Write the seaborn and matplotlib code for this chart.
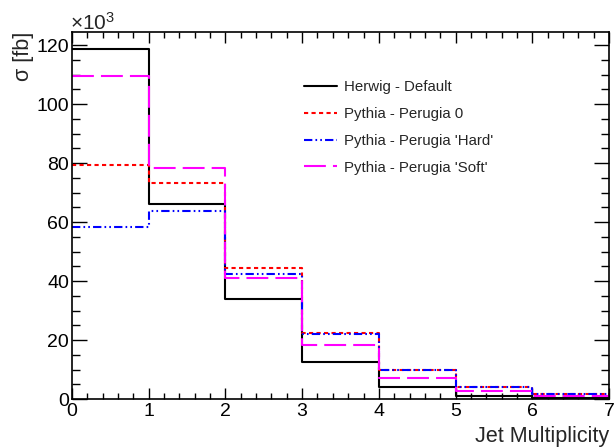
import numpy as np
import pandas as pd
import matplotlib
matplotlib.use("Agg")
import matplotlib.pyplot as plt
from matplotlib.ticker import MultipleLocator
import seaborn as sns

# ---- data (x10^3 fb) ----
bin_edges = [0, 1, 2, 3, 4, 5, 6, 7]
herwig_default = [118.6, 66.3, 34.0, 12.6, 4.1, 1.1, 0.5]
pythia_perugia0 = [79.4, 73.4, 44.6, 22.3, 9.8, 4.2, 1.6]
pythia_hard = [58.4, 63.8, 42.5, 22.2, 10.0, 4.2, 1.6]
pythia_soft = [109.6, 78.5, 40.9, 18.3, 7.2, 2.6, 1.1]
series_labels = ["Herwig - Default", "Pythia - Perugia 0",
                 "Pythia - Perugia 'Hard'", "Pythia - Perugia 'Soft'"]
x_label = "Jet Multiplicity"
y_label = "σ [fb]"

sns.set_style("ticks")
plt.rcParams["font.family"] = ["Liberation Sans", "DejaVu Sans"]
plt.rcParams["mathtext.fontset"] = "custom"
plt.rcParams["mathtext.rm"] = "Liberation Sans"
plt.rcParams["mathtext.it"] = "Liberation Sans:italic"

fig = plt.figure(figsize=(6.14, 4.47), dpi=100)
W, H = 614, 447
L, R, T, B = 72, 609, 32, 399
ax = fig.add_axes([L / W, 1 - B / H, (R - L) / W, (B - T) / H])

styles = [
    dict(color="black", linestyle="solid"),
    dict(color="#ff0000", linestyle=(0, (2.0, 1.6))),
    dict(color="#0000ff", linestyle=(0, (4, 1.5, 0.8, 1.5, 0.8, 1.5))),
    dict(color="#ff00ff", linestyle=(0, (10.5, 3.4))),
]
series = [herwig_default, pythia_perugia0, pythia_hard, pythia_soft]

for vals, lab, st in zip(series, series_labels, styles):
    df = pd.DataFrame({"x": bin_edges, "y": list(vals) + [vals[-1]]})
    sns.lineplot(data=df, x="x", y="y", ax=ax, drawstyle="steps-post",
                 linewidth=1.5, label=lab, sort=False, **st)

ax.set_xlim(0, 7)
ax.set_ylim(0, 124.5)
ax.xaxis.set_major_locator(MultipleLocator(1))
ax.xaxis.set_minor_locator(MultipleLocator(0.2))
ax.yaxis.set_major_locator(MultipleLocator(20))
ax.yaxis.set_minor_locator(MultipleLocator(5))
ax.tick_params(which="both", direction="in", top=True, right=True,
               labelsize=14, colors="black", width=1)
ax.tick_params(axis="y", which="major", length=11, pad=2)
ax.tick_params(axis="y", which="minor", length=5.5)
ax.tick_params(axis="x", which="major", length=8, pad=3)
ax.tick_params(axis="x", which="minor", length=4)
for sp in ax.spines.values():
    sp.set_linewidth(1.2)
    sp.set_color("black")

ax.set_xlabel(x_label, fontsize=15.5, loc="right", labelpad=4)
ax.set_ylabel(y_label, fontsize=15.5, loc="top", labelpad=2)
ax.text(-0.003, 1.0068, r"$\times10^{3}$", transform=ax.transAxes, fontsize=15,
        ha="left", va="baseline")

leg = ax.legend(loc="upper left", bbox_to_anchor=(304 / W, 1 - 80 / H),
                bbox_transform=fig.transFigure, frameon=False, fontsize=10.8,
                handlelength=2.2, handletextpad=0.5, labelspacing=0.86,
                borderpad=0, borderaxespad=0)

fig.savefig("out.png", dpi=100)
